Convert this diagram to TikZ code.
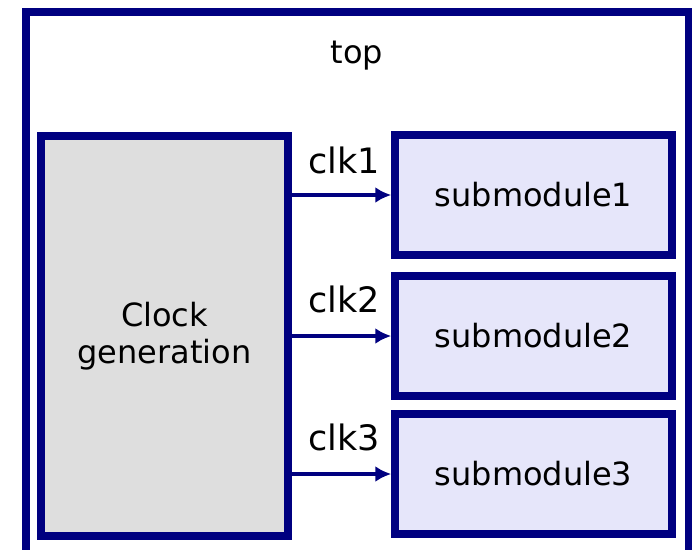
\documentclass[tikz,border=0pt]{standalone}
\usepackage{fontspec}
\setmainfont{DejaVu Sans}
\usetikzlibrary{arrows.meta}

\definecolor{modline}{RGB}{0,0,128}
\definecolor{clkfill}{RGB}{222,222,222}
\definecolor{subfill}{RGB}{230,230,250}

\begin{document}
\begin{tikzpicture}[
    x = 1pt,
    y = -1pt,
    >={Latex[length=16pt,width=16pt]},
    module/.style = {draw=modline, line width=8pt, inner sep=0pt,
    font=\fontsize{32}{37}\selectfont, align=center},
    clkgen/.style = {module, fill=clkfill, minimum width=247pt,
    minimum height=400pt},
    submod/.style = {module, fill=subfill, line width=7.5pt,
    minimum width=277pt, minimum height=120pt},
    clkline/.style = {->, draw=modline, line width=3.5pt},
    clklabel/.style = {font=\fontsize{35}{40}\selectfont, anchor=base,
    inner sep=0pt},
]

\useasboundingbox (0,0) rectangle (692,549);
\clip (0,0) rectangle (692,549);

% top level module, its lower edge runs off the page
\node[module, fill=white, minimum width=663pt, minimum height=545pt]
    (top) at (357,284){};
\node[anchor=base, inner sep=0pt, font=\fontsize{32}{37}\selectfont]
    (toplabel) at (357,63){top};

\node[clkgen] (clk_gen) at (164.5,336){Clock\\generation};

\node[submod] (sub_1) at (533.5,195){submodule1};
\node[submod] (sub_2) at (533.5,336){submodule2};
\node[submod] (sub_3) at (533.5,474){submodule3};

\draw [clkline] (clk_gen.east |- sub_1) -- (sub_1);
\draw [clkline] (clk_gen.east |- sub_2) -- (sub_2);
\draw [clkline] (clk_gen.east |- sub_3) -- (sub_3);

\node[clklabel] (clk_1) at (344,173){clk1};
\node[clklabel] (clk_2) at (344,312){clk2};
\node[clklabel] (clk_3) at (344,450){clk3};
\end{tikzpicture}
\end{document}
